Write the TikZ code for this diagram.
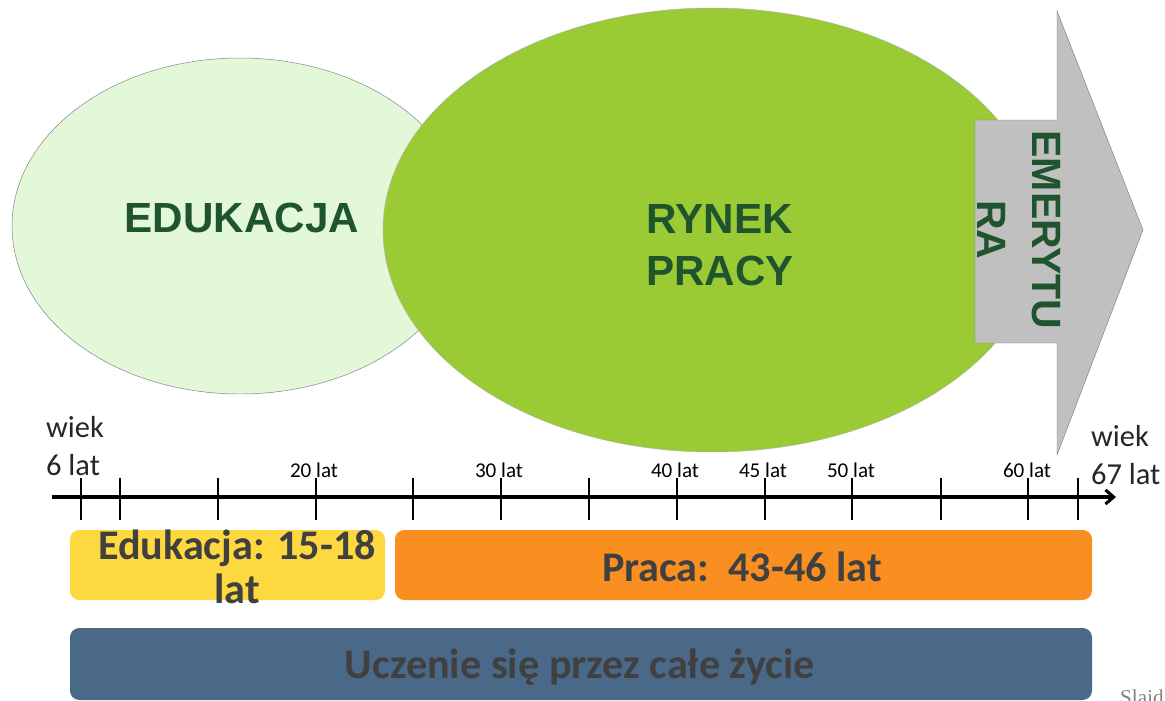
\documentclass[tikz,border=0pt]{standalone}
\usepackage{fontspec}
\setmainfont{Liberation Sans}
\newfontfamily\calibrifont{Carlito}
\newfontfamily\seriffont{Liberation Serif}
\usetikzlibrary{arrows.meta}

\definecolor{eduGreen}{RGB}{226,248,216}
\definecolor{marketGreen}{RGB}{154,203,52}
\definecolor{titleGreen}{RGB}{31,84,46}
\definecolor{arrowGray}{RGB}{192,192,192}
\definecolor{eduYellow}{RGB}{253,216,62}
\definecolor{workOrange}{RGB}{248,143,32}
\definecolor{lifeBlue}{RGB}{74,104,135}
\definecolor{barText}{RGB}{64,64,64}

\begin{document}
\begin{tikzpicture}[x=0.03cm,y=-0.03cm,
	bigtitle/.style={font=\fontsize{36}{44}\selectfont\bfseries, text=titleGreen, align=center},
	bartext/.style={font=\calibrifont\fontsize{36}{38}\selectfont\bfseries, text=barText, align=center},
	ticklabel/.style={font=\calibrifont\fontsize{18}{20}\selectfont, text=black, above, inner sep=1pt},
	agelabel/.style={font=\calibrifont\fontsize{26}{33}\selectfont, text=black!85, align=left, anchor=west}]
	
	\useasboundingbox (0,0) rectangle (1165,701);
	
	%The two ellipses
	\draw[fill=eduGreen, draw=gray] (240,226) ellipse [x radius=228, y radius=168];
	\draw[fill=marketGreen, draw=gray!60] (712,230) ellipse [x radius=329, y radius=222];
	
	%The arrow of retirement
	\draw[fill=arrowGray, draw=gray] (975,120) -- (1057,120) -- (1057,11) -- (1143,230) -- (1057,455) -- (1057,343) -- (975,343) -- cycle;
	
	\node[bigtitle] (edu) at (242,218) {EDUKACJA};
	\node[bigtitle] (market) at (720,245) {RYNEK\\PRACY};
	\node[bigtitle, font=\fontsize{35}{47}\selectfont\bfseries, rotate=-90] (retire) at (1019,230) {EMERYTU\\RA};
	
	%The age axis
	\coordinate (axisStart) at (52,497);
	\coordinate (axisEnd) at (1116,497);
	\draw[line width=2.6pt, -{Straight Barb[length=7pt,width=12pt]}] (axisStart) -- (axisEnd);
	\foreach \x in {81,120,218,316,413,501,589,677,765,852,941,1028,1078}
		\draw[line width=2.2pt] (\x,478) -- (\x,520);
	\foreach \x/\age in {314/20,499/30,675/40,763/45,851/50,1027/60}
		\node[ticklabel] (age\age) at (\x,479) {\age\ lat};
	
	\node[agelabel] (startAge) at (42,446) {wiek\\6 lat};
	\node[agelabel] (endAge) at (1087,455) {wiek\\67 lat};
	
	%The bars
	\fill[eduYellow, rounded corners=8pt] (70,530) rectangle (385,600);
	\fill[workOrange, rounded corners=8pt] (395,530) rectangle (1092,600);
	\fill[lifeBlue, rounded corners=8pt] (70,628) rectangle (1092,700);
	
	\node[bartext] (eduBar) at (237,567) {Edukacja: 15-18\\lat};
	\node[bartext] (workBar) at (742,567) {Praca:\ \ 43-46 lat};
	\node[bartext] (lifeBar) at (580,667) {Uczenie się przez całe życie};
	
	\node[font=\seriffont\fontsize{18}{20}\selectfont, text=gray, anchor=north west, inner sep=0pt] (slideNo) at (1120,690) {Slajd};

\end{tikzpicture}
\end{document}
